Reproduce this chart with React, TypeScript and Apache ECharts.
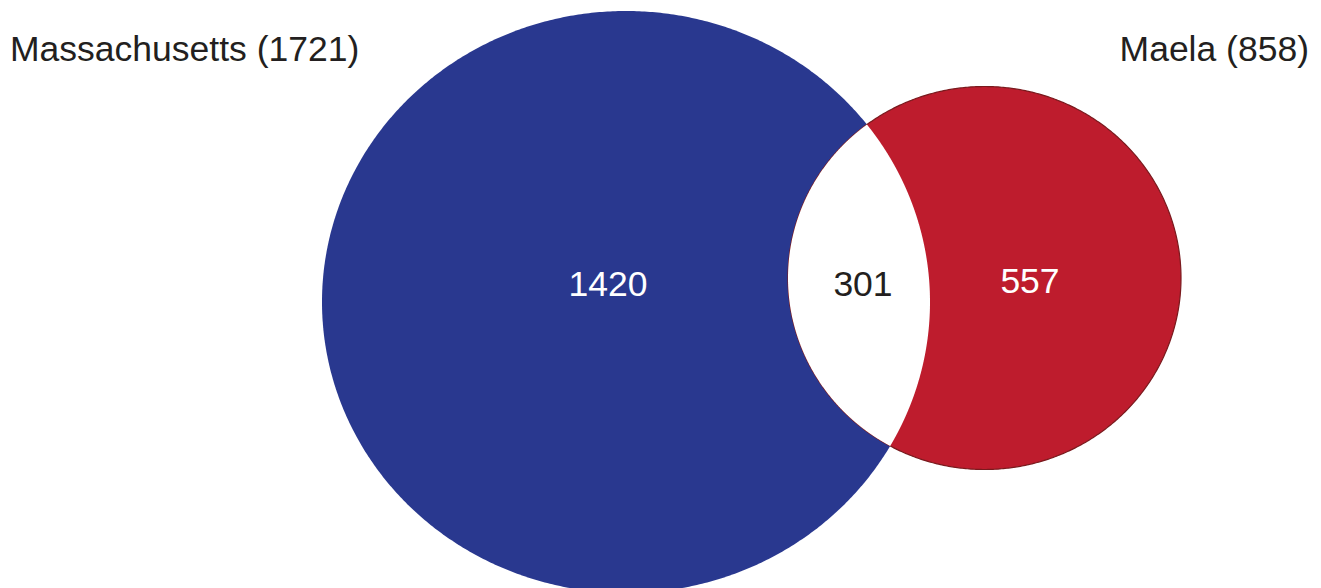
import React, { useEffect, useRef } from "react";
import * as echarts from "echarts";

// ---- data ----
const setNames = ["Massachusetts", "Maela"];
const setTotals = [1721, 858];
const regionNames = ["Massachusetts only", "Both", "Maela only"];
const regionCounts = [1420, 301, 557];

// ---- layout (pixels) ----
const W = 1321;
const H = 588;
const shapes = [
  { cx: 626, cy: 302, rx: 304, ry: 291, fill: "#29388f", stroke: null as string | null },
  { cx: 984.5, cy: 278, rx: 196.5, ry: 191.5, fill: "#be1c2d", stroke: "#7a1a1e" },
];
const regionLabelPos = [
  { x: 608, y: 284, color: "#ffffff" },
  { x: 863, y: 284, color: "#231f20" },
  { x: 1030, y: 281, color: "#ffffff" },
];
const setLabelPos = [
  { x: 10, y: 49, align: "left" },
  { x: 1309, y: 49, align: "right" },
];
const FONT = "'Liberation Sans', Arial, Helvetica, sans-serif";
const FONT_SIZE = 35.5;

type E = { cx: number; cy: number; rx: number; ry: number };
const inside = (e: E, x: number, y: number) =>
  ((x - e.cx) / e.rx) ** 2 + ((y - e.cy) / e.ry) ** 2 <= 1;
const pt = (e: E, t: number) => [e.cx + e.rx * Math.cos(t), e.cy + e.ry * Math.sin(t)];

function ellipsePoints(e: E, n = 720) {
  const pts: number[][] = [];
  for (let i = 0; i < n; i++) pts.push(pt(e, (i / n) * Math.PI * 2));
  return pts;
}

function lensPoints(a: E, b: E, n = 2000) {
  const pts: number[][] = [];
  // b's left arc (bottom -> left -> top) inside a
  for (let i = 0; i <= n; i++) {
    const t = Math.PI / 2 + (i / n) * Math.PI;
    const p = pt(b, t);
    if (inside(a, p[0], p[1])) pts.push(p);
  }
  // a's right arc (top -> right -> bottom) inside b
  for (let i = 0; i <= n; i++) {
    const t = -Math.PI / 2 + (i / n) * Math.PI;
    const p = pt(a, t);
    if (inside(b, p[0], p[1])) pts.push(p);
  }
  return pts;
}

export default function App() {
  const ref = useRef<HTMLDivElement>(null);
  useEffect(() => {
    if (!ref.current) return;
    document.body.style.margin = "0";
    const chart = echarts.init(ref.current, undefined, { renderer: "svg" });
    const data = [0, 1, 2].map((i) => [i, 0]);
    chart.setOption({
      animation: false,
      backgroundColor: "#ffffff",
      grid: { left: 0, right: 0, top: 0, bottom: 0 },
      xAxis: { type: "value", min: 0, max: W, show: false },
      yAxis: { type: "value", min: 0, max: H, inverse: true, show: false },
      tooltip: { show: false },
      series: [
        {
          type: "custom",
          coordinateSystem: "cartesian2d",
          data,
          renderItem: (params: any, api: any) => {
            const idx = params.dataIndex;
            const toPx = (p: number[]) => api.coord(p);
            const children: any[] = [];
            if (idx < 2) {
              const s = shapes[idx];
              children.push({
                type: "polygon",
                shape: { points: ellipsePoints(s).map(toPx) },
                style: {
                  fill: s.fill,
                  stroke: s.stroke || "none",
                  lineWidth: s.stroke ? 1.2 : 0,
                },
              });
              const lp = setLabelPos[idx];
              const c = toPx([lp.x, lp.y]);
              children.push({
                type: "text",
                style: {
                  text: `${setNames[idx]} (${setTotals[idx]})`,
                  x: c[0],
                  y: c[1],
                  fill: "#231f20",
                  fontSize: FONT_SIZE,
                  fontFamily: FONT,
                  align: lp.align,
                  verticalAlign: "middle",
                },
              });
            } else {
              children.push({
                type: "polygon",
                shape: { points: lensPoints(shapes[0], shapes[1]).map(toPx) },
                style: { fill: "#ffffff", stroke: "none" },
              });
              regionCounts.forEach((v, i) => {
                const p = regionLabelPos[i];
                const c = toPx([p.x, p.y]);
                children.push({
                  type: "text",
                  name: regionNames[i],
                  style: {
                    text: String(v),
                    x: c[0],
                    y: c[1],
                    fill: p.color,
                    fontSize: FONT_SIZE,
                    fontFamily: FONT,
                    align: "center",
                    verticalAlign: "middle",
                  },
                });
              });
            }
            return { type: "group", children };
          },
        },
      ],
    });
    return () => chart.dispose();
  }, []);
  return <div ref={ref} style={{ width: W, height: H }} />;
}
